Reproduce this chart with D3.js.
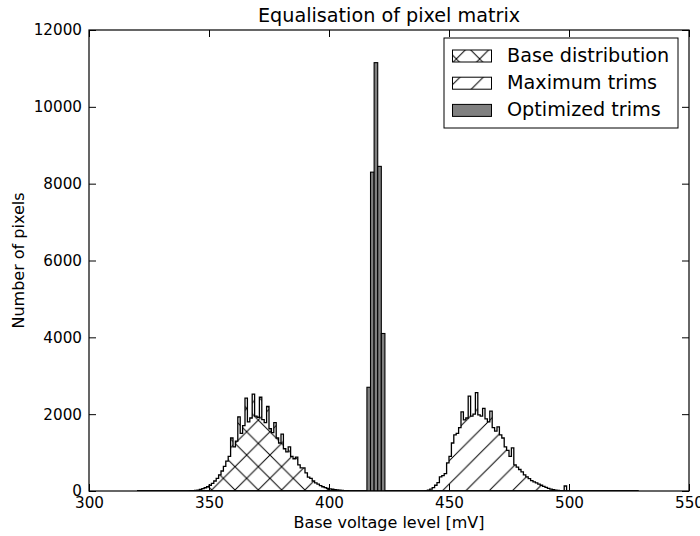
<!DOCTYPE html>
<html><head><meta charset="utf-8">
<script src="https://cdn.jsdelivr.net/npm/d3@7"></script>
<style>body{margin:0;background:#fff}text{font-family:"DejaVu Sans",sans-serif;fill:#000}</style>
</head><body><svg id="c" width="700" height="536"></svg>
<script>
const title = "Equalisation of pixel matrix";
const xLabel = "Base voltage level [mV]";
const yLabel = "Number of pixels";
const xTicks = [300, 350, 400, 450, 500, 550];
const yTicks = [0, 2000, 4000, 6000, 8000, 10000, 12000];
const seriesNames = ["Base distribution", "Maximum trims", "Optimized trims"];
const histStart = 320, histEnd = 529; // mV, 1 mV bins
const baseFirstBin = 340;
const baseCounts = [2,4,6,10,15,25,40,60,85,110,150,200,260,330,420,520,640,780,900,1380,
  1150,1300,1930,1500,1700,2420,1800,1900,2520,1950,1920,2440,1860,1780,2200,1620,1520,1780,1380,1250,
  1480,1100,1020,1150,900,840,880,680,600,600,470,360,330,260,210,180,140,110,90,70,
  55,45,35,28,20,15,10,7,5,3,1];
const maxFirstBin = 438;
const maxCounts = [2,5,12,25,50,90,150,220,370,400,450,730,900,1250,1460,1500,1650,2060,1850,1900,
  2470,1950,2000,2560,1980,1950,2150,1880,1800,2080,1650,1560,1670,1460,1380,1150,1060,900,1120,680,
  620,560,500,420,370,320,270,240,210,180,150,120,95,70,50,35,25,15,10,6,130,3,2];
const optEdges = [415.8, 417.3, 418.8, 420.3, 421.8, 423.3];
const optCounts = [2700, 8300, 11150, 8450, 4100];

const svg = d3.select("#c");
const L = 89, R = 689, T = 30, B = 491;
const x = d3.scaleLinear().domain([300, 550]).range([L, R]);
const y = d3.scaleLinear().domain([0, 12000]).range([B, T]);

const defs = svg.append("defs");
const P = 23.3;
const pX = defs.append("pattern").attr("id", "hatchX").attr("patternUnits", "userSpaceOnUse")
  .attr("width", P).attr("height", P).attr("x", 211.7).attr("y", 490);
pX.append("path").attr("d",
  `M0,${P}L${P},0M-1,1L1,-1M${P-1},${P+1}L${P+1},${P-1}` +
  `M0,0L${P},${P}M-1,${P-1}L1,${P+1}M${P-1},-1L${P+1},1`)
  .attr("stroke", "#000").attr("stroke-width", 1).attr("fill", "none");
const pS = defs.append("pattern").attr("id", "hatchS").attr("patternUnits", "userSpaceOnUse")
  .attr("width", P).attr("height", P).attr("x", 443.3).attr("y", 490);
pS.append("path").attr("d",
  `M0,${P}L${P},0M-1,1L1,-1M${P-1},${P+1}L${P+1},${P-1}`)
  .attr("stroke", "#000").attr("stroke-width", 1).attr("fill", "none");

defs.append("clipPath").attr("id", "clip").append("rect")
  .attr("x", L).attr("y", T).attr("width", R - L).attr("height", B - T);

function fullBins(first, counts) {
  const bins = [];
  for (let v = histStart; v < histEnd; v++) {
    const i = v - first;
    bins.push({x0: v, x1: v + 1, c: (i >= 0 && i < counts.length) ? counts[i] : 0});
  }
  return bins;
}
function stepPoints(bins) {
  const pts = [[bins[0].x0, 0]];
  bins.forEach(b => { pts.push([b.x0, b.c]); pts.push([b.x1, b.c]); });
  pts.push([bins[bins.length - 1].x1, 0]);
  return pts;
}
const line = d3.line().x(d => x(d[0])).y(d => y(d[1]));

const g = svg.append("g").attr("clip-path", "url(#clip)");
[[baseFirstBin, baseCounts, "url(#hatchX)"], [maxFirstBin, maxCounts, "url(#hatchS)"]].forEach(([f, c, fill]) => {
  const pts = stepPoints(fullBins(f, c));
  g.append("path").attr("d", line(pts) + "Z")
    .attr("fill", fill).attr("stroke", "#000").attr("stroke-width", 1.3)
    .attr("stroke-linejoin", "miter");
});
const optBins = optCounts.map((c, i) => ({x0: optEdges[i], x1: optEdges[i + 1], c}));
g.selectAll("rect.opt").data(optBins).enter().append("rect").attr("class", "opt")
  .attr("x", d => x(d.x0)).attr("width", d => x(d.x1) - x(d.x0))
  .attr("y", d => y(d.c)).attr("height", d => y(0) - y(d.c))
  .attr("fill", "#808080").attr("stroke", "#000").attr("stroke-width", 1.1);

// axes (inward ticks)
const fs = "15.2px";
const ax = svg.append("g").attr("transform", `translate(0,${B})`)
  .call(d3.axisBottom(x).tickValues(xTicks).tickSizeInner(-7).tickSizeOuter(0).tickPadding(6).tickFormat(d3.format("d")));
const axT = svg.append("g").attr("transform", `translate(0,${T})`)
  .call(d3.axisTop(x).tickValues(xTicks).tickSizeInner(-7).tickSizeOuter(0).tickFormat(""));
const ay = svg.append("g").attr("transform", `translate(${L},0)`)
  .call(d3.axisLeft(y).tickValues(yTicks).tickSizeInner(-7).tickSizeOuter(0).tickPadding(7).tickFormat(d3.format("d")));
const ayR = svg.append("g").attr("transform", `translate(${R},0)`)
  .call(d3.axisRight(y).tickValues(yTicks).tickSizeInner(-7).tickSizeOuter(0).tickFormat(""));
[ax, axT, ay, ayR].forEach(a => {
  a.select(".domain").remove();
  a.selectAll("line").attr("stroke", "#000").attr("stroke-width", 1);
  a.selectAll("text").attr("font-size", fs).attr("font-family", "DejaVu Sans");
});
svg.append("rect").attr("x", L).attr("y", T).attr("width", R - L).attr("height", B - T)
  .attr("fill", "none").attr("stroke", "#000").attr("stroke-width", 1.2);

svg.append("text").attr("x", (L + R) / 2).attr("y", 22).attr("text-anchor", "middle")
  .attr("font-size", "19.2px").text(title);
svg.append("text").attr("x", (L + R) / 2).attr("y", 528).attr("text-anchor", "middle")
  .attr("font-size", "16px").text(xLabel);
svg.append("text").attr("transform", `translate(24,${(T + B) / 2}) rotate(-90)`)
  .attr("text-anchor", "middle").attr("font-size", "16px").text(yLabel);

// legend
const lg = svg.append("g");
lg.append("rect").attr("x", 444).attr("y", 38).attr("width", 234).attr("height", 90)
  .attr("fill", "#fff").attr("stroke", "#000").attr("stroke-width", 1);
const fills = ["url(#hatchX)", "url(#hatchS)", "#808080"];
seriesNames.forEach((n, i) => {
  const yy = 50 + i * 27.2;
  lg.append("rect").attr("x", 452.5).attr("y", yy).attr("width", 39).attr("height", 12)
    .attr("fill", fills[i]).attr("stroke", "#000").attr("stroke-width", 1);
  lg.append("text").attr("x", 507).attr("y", yy + 12).attr("font-size", "19.2px").text(n);
});
</script></body></html>
